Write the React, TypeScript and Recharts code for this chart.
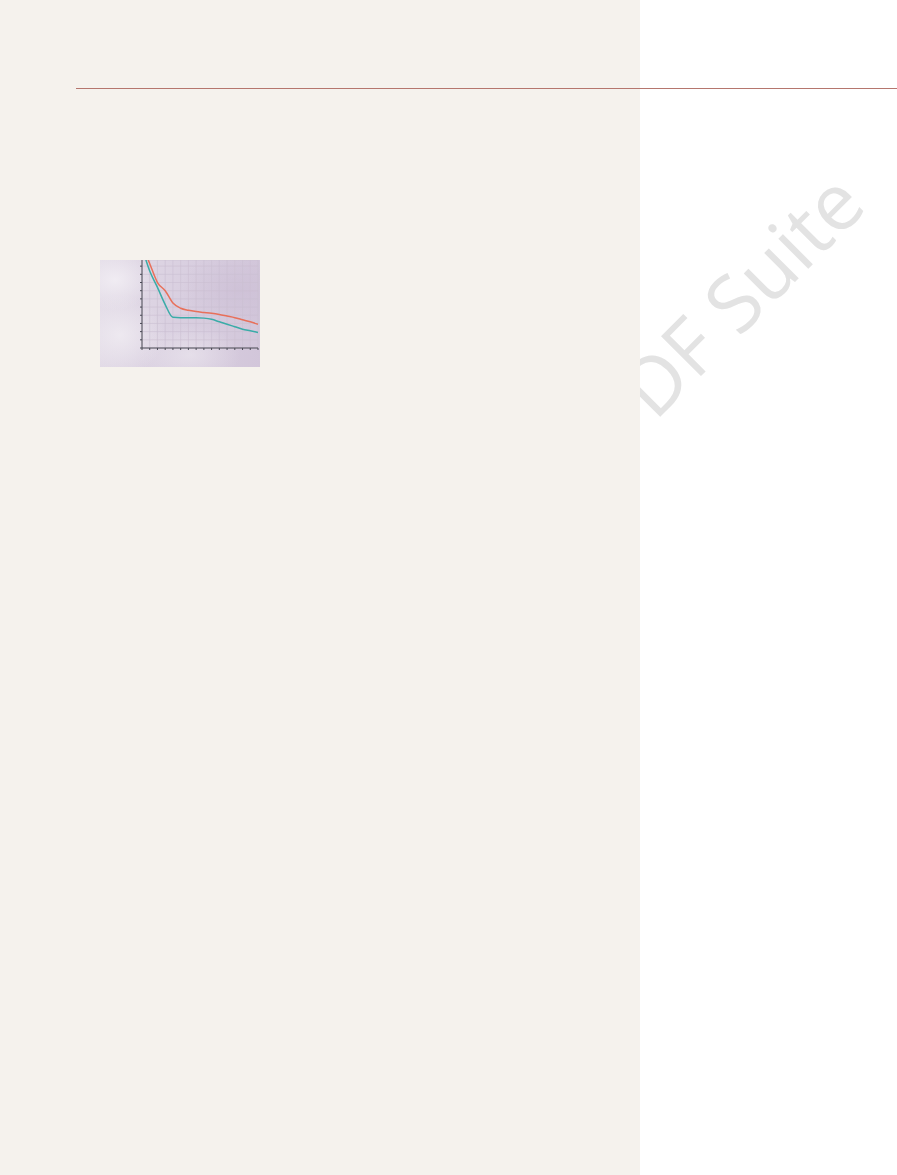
import React from 'react';
import { LineChart, Line, XAxis, YAxis, CartesianGrid } from 'recharts';

// x positions along the small graph (grid units)
const steps = [0, 1, 2, 3, 4, 5, 6, 7, 8, 9, 10, 11, 12, 13, 14, 15];
// upper (red) curve
const upperCurve = [12.6, 10.3, 8.0, 7.0, 5.5, 4.85, 4.6, 4.45, 4.35, 4.25, 4.1, 3.9, 3.7, 3.45, 3.2, 2.9];
// lower (teal) curve
const lowerCurve = [12.3, 9.4, 7.4, 5.3, 3.75, 3.7, 3.7, 3.7, 3.65, 3.5, 3.2, 2.9, 2.6, 2.3, 2.1, 1.9];
const yTicks = [0, 1, 2, 3, 4, 5, 6, 7, 8, 9, 10];

const data = steps.map((s, i) => ({ step: s, upper: upperCurve[i], lower: lowerCurve[i] }));

const cloudy =
  'radial-gradient(ellipse 40px 30px at 15px 20px, rgba(242,238,244,0.9), rgba(242,238,244,0) 100%),' +
  'radial-gradient(ellipse 45px 40px at 20px 75px, rgba(240,236,242,0.85), rgba(240,236,242,0) 100%),' +
  'radial-gradient(ellipse 50px 30px at 90px 95px, rgba(235,230,238,0.7), rgba(235,230,238,0) 100%),' +
  'radial-gradient(ellipse 60px 40px at 140px 30px, rgba(205,192,214,0.8), rgba(205,192,214,0) 100%),' +
  'linear-gradient(100deg, #e3dce7 0%, #d9cfe0 50%, #d2c6da 100%)';

export default function App() {
  return (
    <div
      style={{
        position: 'absolute',
        left: 0,
        top: 0,
        width: 897,
        height: 1175,
        background: '#ffffff',
        overflow: 'hidden',
        fontFamily: '"Open Sans", sans-serif',
      }}
    >
      <svg width={897} height={1175} style={{ position: 'absolute', left: 0, top: 0 }}>
        <text
          x={869}
          y={208}
          textAnchor="end"
          fontSize={79}
          fill="#e3e3e3"
          fontFamily='"Open Sans", sans-serif'
          transform="rotate(-45 869 208)"
        >
          DF Suite
        </text>
      </svg>
      <div style={{ position: 'absolute', left: 0, top: 0, width: 640, height: 1175, background: '#f5f2ed' }} />
      <div style={{ position: 'absolute', left: 76, top: 88, width: 821, height: 1, background: '#b5766e' }} />
      <div style={{ position: 'absolute', left: 100, top: 260, width: 160, height: 107, background: cloudy }}>
        <LineChart width={160} height={107} data={data} margin={{ top: 0, right: 2, bottom: 0, left: 0 }}>
          <CartesianGrid stroke="#cbbfd2" strokeWidth={0.6} />
          <XAxis
            dataKey="step"
            type="number"
            domain={[0, 15]}
            ticks={steps}
            height={19}
            tickSize={2}
            tickFormatter={() => ''}
            tickLine={{ stroke: '#4a4a55' }}
            axisLine={{ stroke: '#4a4a55', strokeWidth: 1 }}
          />
          <YAxis
            type="number"
            domain={[0, 10.75]}
            allowDataOverflow
            ticks={yTicks}
            width={42}
            tickSize={2}
            tickFormatter={() => ''}
            tickLine={{ stroke: '#4a4a55' }}
            axisLine={{ stroke: '#4a4a55', strokeWidth: 1 }}
          />
          <Line type="monotone" dataKey="upper" stroke="#e8705a" strokeWidth={1.5} dot={false} isAnimationActive={false} />
          <Line type="monotone" dataKey="lower" stroke="#3aaca8" strokeWidth={1.5} dot={false} isAnimationActive={false} />
        </LineChart>
      </div>
    </div>
  );
}
